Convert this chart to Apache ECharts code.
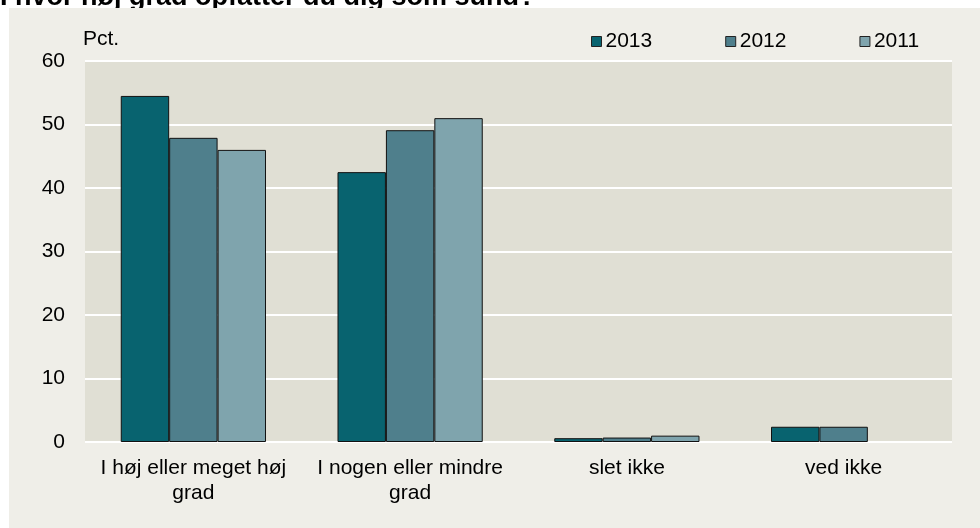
<!DOCTYPE html>
<html><head><meta charset="utf-8">
<script src="https://cdn.jsdelivr.net/npm/echarts@6/dist/echarts.min.js"></script>
<style>html,body{margin:0;padding:0;background:#fff}#c{width:980px;height:528px}</style>
</head><body><div id="c"></div>
<script>
const titleText = 'I hvor høj grad opfatter du dig som sund?';
const unitLabel = 'Pct.';
const categories = ['I høj eller meget høj\ngrad', 'I nogen eller mindre\ngrad', 'slet ikke', 'ved ikke'];
const seriesNames = ['2013', '2012', '2011'];
const v2013 = [54.5, 42.5, 0.6, 2.4];
const v2012 = [47.9, 49.1, 0.7, 2.4];
const v2011 = [46.0, 51.0, 1.0, null];
const colors = ['#08636f', '#4f7f8c', '#7fa4ad'];
const FONT = 'Liberation Sans, Arial, sans-serif';

const chart = echarts.init(document.getElementById('c'), null, {renderer: 'canvas'});
const data = [v2013, v2012, v2011];
chart.setOption({
  animation: false,
  backgroundColor: '#ffffff',
  graphic: [
    {type: 'rect', z: -10, shape: {x: 9, y: 8, width: 971, height: 520}, style: {fill: '#efeee8'}},
    {type: 'text', z: -20, x: 0, y: 11, style: {text: titleText, font: 'bold 27px ' + FONT, fill: '#000', verticalAlign: 'bottom'}},
    {type: 'text', x: 83, y: 29, style: {text: unitLabel, font: '21px ' + FONT, fill: '#000'}}
  ],
  legend: {
    left: 586, top: 26, itemWidth: 10, itemHeight: 10, itemGap: 73, icon: 'rect',
    textStyle: {fontFamily: FONT, fontSize: 21, color: '#000', padding: [0, 0, 0, -1]},
    data: seriesNames.map((n, i) => ({name: n, itemStyle: {color: colors[i], borderColor: '#222', borderWidth: 1}}))
  },
  grid: {left: 85, right: 28, top: 61, bottom: 86, show: true, backgroundColor: '#e0dfd4', borderWidth: 0},
  xAxis: {
    type: 'category', data: categories,
    axisLine: {show: false}, axisTick: {show: false},
    axisLabel: {fontFamily: FONT, fontSize: 21, color: '#000', margin: 14, lineHeight: 25, interval: 0}
  },
  yAxis: {
    type: 'value', min: 0, max: 60, interval: 10,
    axisLine: {show: false}, axisTick: {show: false},
    axisLabel: {fontFamily: FONT, fontSize: 21, color: '#000', margin: 20},
    splitLine: {lineStyle: {color: '#ffffff', width: 2}}
  },
  series: seriesNames.map((n, i) => ({
    name: n, type: 'bar', data: data[i],
    barGap: '0%', barCategoryGap: '33%',
    itemStyle: {color: colors[i], borderColor: '#111', borderWidth: 1}
  }))
});
</script></body></html>
